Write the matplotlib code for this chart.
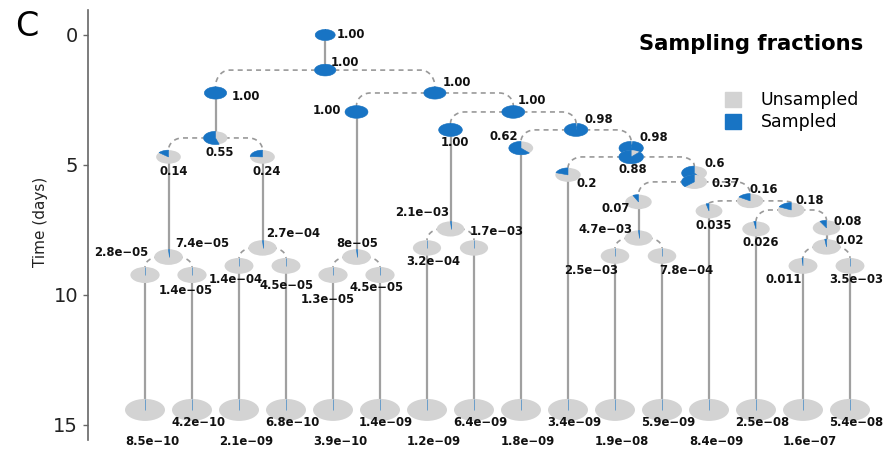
import matplotlib.pyplot as plt
import matplotlib.patches as mpatches
import numpy as np

# transmission tree in depth-first order (left child before right child)
node_id = ['A', 'B', 'C', 'E', 'F', 'F1', 'F2', 't1', 'F3', 't2',
           'G', 'G1', 'G2', 't3', 'G3', 't4',
           'D', 'H', 'H1', 'H2', 't5', 'H3', 't6',
           'I', 'J', 'J1', 'J2', 't7', 'J3', 't8',
           'K', 'L', 't9', 'M', 'N', 'O', 't10',
           'P', 'Q', 'R', 'T', 'U', 't11', 'V', 't12',
           'S', 'W', 't13', 'X', 'Y', 't14', 'Z', 'AA', 'AB', 't15', 'AC', 't16']
parent_id = [None, 'A', 'B', 'C', 'E', 'F', 'F1', 'F2', 'F1', 'F3',
             'E', 'G', 'G1', 'G2', 'G1', 'G3',
             'B', 'D', 'H', 'H1', 'H2', 'H1', 'H3',
             'D', 'I', 'J', 'J1', 'J2', 'J1', 'J3',
             'I', 'K', 'L', 'K', 'M', 'N', 'O',
             'N', 'P', 'Q', 'R', 'T', 'U', 'T', 'V',
             'Q', 'S', 'W', 'S', 'X', 'Y', 'X', 'Z', 'AA', 'AB', 'AA', 'AC']
node_time = [0.00, 1.35, 2.23, 3.96, 4.69, 8.54, 9.23, 14.42, 9.23, 14.42,
             4.69, 8.19, 8.88, 14.42, 8.88, 14.42,
             2.23, 2.96, 8.54, 9.23, 14.42, 9.23, 14.42,
             2.96, 3.65, 7.46, 8.19, 14.42, 8.19, 14.42,
             3.65, 4.35, 14.42, 4.35, 4.69, 5.38, 14.42,
             5.31, 5.65, 6.42, 7.81, 8.50, 14.42, 8.50, 14.42,
             6.38, 6.77, 14.42, 6.73, 7.46, 14.42, 7.42, 8.15, 8.88, 14.42, 8.88, 14.42]
frac_label = ['1.00', '1.00', '1.00', '0.55', '0.14', '7.4e-05', '2.8e-05', '8.5e-10', '1.4e-05', '4.2e-10',
              '0.24', '2.7e-04', '1.4e-04', '2.1e-09', '4.5e-05', '6.8e-10',
              '1.00', '1.00', '8e-05', '1.3e-05', '3.9e-10', '4.5e-05', '1.4e-09',
              '1.00', '1.00', '2.1e-03', '3.2e-04', '1.2e-09', '1.7e-03', '6.4e-09',
              '0.98', '0.62', '1.8e-09', '0.98', '0.88', '0.2', '3.4e-09',
              '0.6', '0.37', '0.07', '4.7e-03', '2.5e-03', '1.9e-08', '7.8e-04', '5.9e-09',
              '0.16', '0.035', '8.4e-09', '0.18', '0.026', '2.5e-08', '0.08', '0.02', '0.011', '1.6e-07',
              '3.5e-03', '5.4e-08']
sampled_frac = [float(s) for s in frac_label]

# where each label sits relative to its pie, in pixels (right, down)
label_offset = {
    'A': (26, 0), 'B': (20, -8), 'C': (30, 4), 'E': (4, 15), 'F': (5, 15),
    'F1': (34, -14), 'F2': (-24, -22), 'F3': (-6, 16), 'G': (4, 15),
    'G1': (31, -14), 'G2': (-3, 14), 'G3': (1, 20), 'D': (22, -10),
    'H': (-30, -1), 'H1': (1, -14), 'H2': (-5, 25), 'H3': (-3, 13),
    'I': (19, -11), 'J': (4, 13), 'J1': (-28, -16), 'J2': (6, 14),
    'J3': (23, -16), 'K': (23, -10), 'L': (-17, -12), 'M': (23, -11),
    'N': (2, 13), 'O': (19, 9), 'P': (20, -10), 'Q': (31, 2),
    'R': (-23, 7), 'T': (-33, -9), 'U': (-24, 15), 'V': (24, 15),
    'S': (14, -11), 'W': (5, 14), 'X': (18, -9), 'Y': (5, 14),
    'Z': (21, -6), 'AA': (23, -6), 'AB': (-19, 14), 'AC': (6, 14),
}

GREY = '#d3d3d3'
BLUE = '#1874c4'
LINE = '#a0a0a0'

# pixels per unit on each axis
PX_X = 47.0
PX_Y = 26.0

children = {n: [] for n in node_id}
for n, p in zip(node_id, parent_id):
    if p is not None:
        children[p].append(n)

# tips get consecutive slots, inner nodes sit between their children
xpos = {}
tip_rank = {}
k = 0
for n in node_id:
    if not children[n]:
        xpos[n] = float(k)
        tip_rank[n] = k
        k += 1


def place(n):
    if n not in xpos:
        xpos[n] = np.mean([place(c) for c in children[n]])
    return xpos[n]


place('A')
tpos = dict(zip(node_id, node_time))
frac = dict(zip(node_id, sampled_frac))
text = dict(zip(node_id, frac_label))


def pie_size(n):
    if not children[n]:
        w = 40.0
    else:
        w = 20.0 + 1.0 * tpos[n]
    return w, 0.55 * w


fig = plt.figure(figsize=(8.86, 4.54), dpi=100)
ax = fig.add_axes([88 / 886, 14 / 454, 1 - 88 / 886, 430 / 454])
ax.set_xlim((88 - 145) / PX_X, (886 - 145) / PX_X)
ax.set_ylim((440 - 35) / PX_Y, (10 - 35) / PX_Y)

# branches
for n in node_id:
    kids = children[n]
    x0, t0 = xpos[n], tpos[n]
    if len(kids) == 1:
        c = kids[0]
        ax.plot([x0, x0], [t0, tpos[c]], color=LINE, lw=1.6, zorder=1,
                solid_capstyle='butt')
    elif len(kids) == 2:
        for c in kids:
            xc, tc = xpos[c], tpos[c]
            top = tc - pie_size(c)[1] / 2 / PX_Y
            s = np.sign(xc - x0)
            r = min(14 / PX_X, abs(xc - x0))
            phi = np.linspace(0, np.pi / 2, 20)
            xs = np.concatenate([[x0], xc - s * r + s * r * np.sin(phi)])
            ys = np.concatenate([[t0], top - (top - t0) * np.cos(phi)])
            ax.plot(xs, ys, color='#999999', lw=1.2, ls=(0, (3, 2.5)), zorder=1)

# pies
for n in node_id:
    x, t = xpos[n], tpos[n]
    w, h = pie_size(n)
    a, b = w / 2 / PX_X, h / 2 / PX_Y
    ax.add_patch(mpatches.Ellipse((x, t), 2 * a, 2 * b, facecolor=GREY,
                                  edgecolor='none', zorder=2))
    th = np.linspace(np.pi / 2, np.pi / 2 + 2 * np.pi * frac[n], 100)
    verts = np.column_stack([np.r_[x, x + a * np.cos(th)],
                             np.r_[t, t - b * np.sin(th)]])
    ax.add_patch(mpatches.Polygon(verts, closed=True, facecolor=BLUE,
                                  edgecolor=BLUE, lw=0.4, zorder=2))

    if children[n]:
        dx, dy = label_offset[n]
    else:
        dx, dy = (7, 32) if tip_rank[n] % 2 == 0 else (6, 13)
    ax.annotate(text[n].replace('-', '\u2212'), (x, t), xytext=(dx, -dy),
                textcoords='offset pixels', ha='center', va='center',
                fontsize=8.4, fontweight='bold', color='#111111', zorder=3)

for side in ['top', 'right', 'bottom']:
    ax.spines[side].set_visible(False)
ax.spines['left'].set_color('#666666')
ax.spines['left'].set_linewidth(1.2)
ax.set_xticks([])
ax.set_yticks([0, 5, 10, 15])
ax.tick_params(axis='y', length=3.6, width=1.0, color='#666666', pad=3.5,
               labelsize=14, labelcolor='#222222')

fig.text(40 / 886, 1 - 222 / 454, 'Time (days)', rotation=90, ha='center',
         va='center', fontsize=11, color='#222222')
fig.text(27 / 886, 1 - 26 / 454, 'C', ha='center', va='center', fontsize=24)
fig.text(751 / 886, 1 - 44 / 454, 'Sampling fractions', ha='center',
         va='center', fontsize=15.2, fontweight='bold')

handles = [mpatches.Patch(color=GREY, label='Unsampled'),
           mpatches.Patch(color=BLUE, label='Sampled')]
fig.legend(handles=handles, loc='upper left', bbox_to_anchor=(725 / 886, 1 - 91 / 454),
           frameon=False, fontsize=12.5, handlelength=0.95, handleheight=0.95,
           handletextpad=1.1, labelspacing=0.25, borderpad=0, borderaxespad=0)

fig.savefig('out.png', dpi=100)
